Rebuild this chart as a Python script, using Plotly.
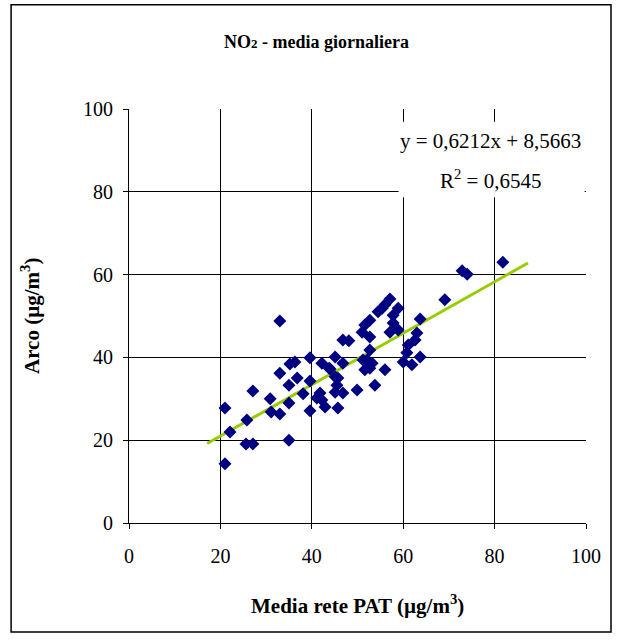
import plotly.graph_objects as go

# Data (Media rete PAT vs Arco, NO2 daily means, µg/m3)
pat = [21.0, 21.0, 22.1, 25.8, 25.6, 27.1, 27.1, 30.9, 31.1, 33.0,
       35.0, 33.0, 35.0, 35.0, 36.8, 35.2, 36.3, 38.1, 39.6, 39.6,
       33.0, 39.6, 42.2, 45.1, 44.0, 45.1, 45.5, 45.1, 41.8, 42.2,
       41.1, 42.9, 45.7, 46.8, 49.9, 46.8, 48.1, 51.0, 52.7, 52.7,
       52.1, 53.2, 51.6, 53.8, 57.8, 57.1, 58.9, 63.0, 62.6, 61.1,
       60.8, 60.0, 61.9, 63.7, 56.0, 57.1, 55.4, 56.0, 58.9, 57.8,
       52.7, 51.6, 54.5, 69.1, 63.7, 72.9, 74.0, 81.8, 46.8, 51.2,
       43.8, 45.7, 52.7]
arco = [14.3, 27.8, 22.0, 24.9, 19.1, 19.1, 31.9, 30.0, 26.8, 26.3,
        20.0, 36.2, 33.3, 29.0, 35.0, 38.4, 38.9, 31.2, 34.3, 27.1,
        48.8, 39.9, 38.6, 40.1, 37.2, 35.3, 33.3, 31.6, 31.4, 29.7,
        30.2, 28.0, 27.8, 31.4, 32.1, 44.2, 44.0, 46.1, 44.9, 41.8,
        39.4, 38.6, 37.0, 33.3, 48.3, 46.1, 46.6, 45.9, 44.2, 43.0,
        41.1, 38.9, 38.2, 40.1, 37.0, 54.1, 51.9, 52.7, 51.9, 50.2,
        49.0, 47.8, 51.0, 53.9, 49.3, 60.9, 60.1, 63.0, 38.6, 39.4,
        37.4, 35.0, 37.4]

slope = 0.6212
intercept = 8.5663
r2 = 0.6545
trend_x = [17.1, 87.3]
trend_y = [slope * v + intercept for v in trend_x]

tick_vals = [0, 20, 40, 60, 80, 100]
tick_text = ["0", "20", "40", "60", "80", "100"]

FONT = "Liberation Serif"

fig = go.Figure()
fig.add_trace(go.Scatter(
    x=trend_x, y=trend_y, mode="lines",
    line=dict(color="#99CC00", width=3), hoverinfo="skip", showlegend=False))
fig.add_trace(go.Scatter(
    x=pat, y=arco, mode="markers",
    marker=dict(symbol="diamond", size=10, color="#000080",
                line=dict(width=0)),
    showlegend=False))

fig.update_layout(
    width=620, height=641,
    margin=dict(l=129, r=34, t=109, b=118),
    paper_bgcolor="white", plot_bgcolor="white",
    font=dict(family=FONT, size=16, color="black"),
    showlegend=False,
)
fig.update_xaxes(
    range=[0, 100], tickvals=tick_vals, ticktext=tick_text,
    showgrid=True, gridcolor="#000000", gridwidth=1,
    showline=True, linecolor="#000000", linewidth=1,
    ticks="outside", ticklen=5, tickcolor="#000000",
    ticklabelstandoff=10, zeroline=False,
    tickfont=dict(family=FONT, size=20, color="black"),
)
fig.update_yaxes(
    range=[0, 100], tickvals=tick_vals, ticktext=tick_text,
    showgrid=True, gridcolor="#000000", gridwidth=1,
    showline=True, linecolor="#000000", linewidth=1,
    ticks="outside", ticklen=5, tickcolor="#000000",
    ticklabelstandoff=6, zeroline=False,
    tickfont=dict(family=FONT, size=20, color="black"),
)

# white box behind the trendline equation
fig.add_shape(type="rect", xref="x", yref="y", x0=59.0, x1=99.7, y0=78.7, y1=96.9,
              fillcolor="white", line=dict(width=0), layer="between")
# outer chart border
fig.add_shape(type="rect", xref="paper", yref="paper",
              x0=-0.258, x1=1.0547, y0=-0.263, y1=1.252,
              line=dict(color="black", width=1.5), fillcolor="rgba(0,0,0,0)")

fig.add_annotation(x=0.411, y=1.162, xref="paper", yref="paper", showarrow=False,
                   xanchor="center", yanchor="middle",
                   text="<b>NO<span style='font-size:13px'>2</span> - media giornaliera</b>",
                   font=dict(family=FONT, size=18, color="black"))
fig.add_annotation(x=0.499, y=-0.198, xref="paper", yref="paper", showarrow=False,
                   xanchor="center", yanchor="middle",
                   text="<b>Media rete PAT (µg/m<sup>3</sup>)</b>",
                   font=dict(family=FONT, size=21, color="black"))
fig.add_annotation(x=-0.2166, y=0.50, xref="paper", yref="paper", showarrow=False,
                   xanchor="center", yanchor="middle", textangle=-90,
                   text="<b>Arco (µg/m<sup>3</sup>)</b>",
                   font=dict(family=FONT, size=21, color="black"))
fig.add_annotation(x=0.790, y=0.923, xref="paper", yref="paper", showarrow=False,
                   xanchor="center", yanchor="middle",
                   text="y = 0,6212x + 8,5663",
                   font=dict(family=FONT, size=21, color="black"))
fig.add_annotation(x=0.790, y=0.830, xref="paper", yref="paper", showarrow=False,
                   xanchor="center", yanchor="middle",
                   text="R<sup>2</sup> = 0,6545",
                   font=dict(family=FONT, size=21, color="black"))

fig.write_html("out.html", config={"displayModeBar": False},
               post_script="document.body.style.margin='0px';")
